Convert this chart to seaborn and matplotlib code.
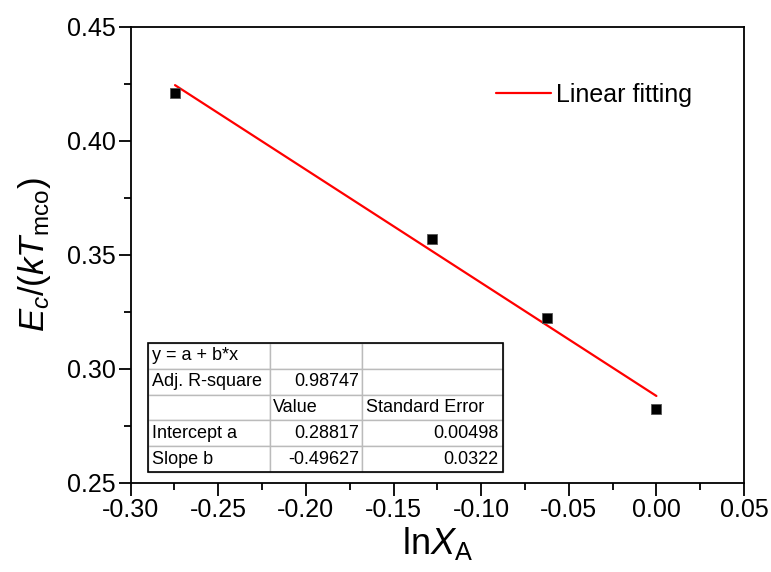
import numpy as np
import pandas as pd
import matplotlib
matplotlib.use("Agg")
import matplotlib.pyplot as plt
import seaborn as sns
from matplotlib.patches import Rectangle

# ---- data ----
ln_xa = [-0.2747, -0.128, -0.0624, 0.0]
ec_ktmco = [0.4209, 0.357, 0.3224, 0.2825]
fit_a = 0.28817
fit_b = -0.49627
fit_a_err = 0.00498
fit_b_err = 0.0322
adj_r2 = 0.98747
x_ticks = [-0.30, -0.25, -0.20, -0.15, -0.10, -0.05, 0.00, 0.05]
y_ticks = [0.25, 0.30, 0.35, 0.40, 0.45]

sns.set_style("ticks")
plt.rcParams['font.family'] = ['Liberation Sans', 'DejaVu Sans']
plt.rcParams['mathtext.fontset'] = 'custom'
plt.rcParams['mathtext.rm'] = 'Liberation Sans'
plt.rcParams['mathtext.it'] = 'Liberation Sans:italic'
plt.rcParams['mathtext.bf'] = 'Liberation Sans:bold'
plt.rcParams['text.color'] = 'black'
plt.rcParams['axes.labelcolor'] = 'black'
plt.rcParams['xtick.color'] = 'black'
plt.rcParams['ytick.color'] = 'black'

fig = plt.figure(figsize=(7.71, 5.72), dpi=100)
ax = fig.add_axes([0.1695, 0.1556, 0.7955, 0.7972])

pts = pd.DataFrame({"x": ln_xa, "y": ec_ktmco})
fit_x = np.array([min(ln_xa), max(ln_xa)])
fit = pd.DataFrame({"x": fit_x, "y": fit_a + fit_b * fit_x})

sns.lineplot(data=fit, x="x", y="y", ax=ax, color="#ff0000", linewidth=1.6,
             label="Linear fitting", zorder=2)
ax.plot(pts["x"], pts["y"], linestyle="none", marker="s", markersize=7.5,
        markerfacecolor="black", markeredgecolor="#555555", markeredgewidth=0.6, zorder=3)

ax.set_xlim(-0.30, 0.05)
ax.set_ylim(0.25, 0.45)
ax.set_xticks(x_ticks)
ax.set_yticks(y_ticks)
ax.set_xticklabels([f"{t:.2f}" for t in x_ticks])
ax.set_yticklabels([f"{t:.2f}" for t in y_ticks])
ax.set_xticks(np.arange(-0.275, 0.05, 0.05), minor=True)
ax.set_yticks(np.arange(0.275, 0.45, 0.05), minor=True)
ax.tick_params(which="major", direction="out", length=9, width=1.3, labelsize=18, pad=2,
               colors="black", labelcolor="black")
ax.tick_params(which="minor", direction="out", length=5, width=1.3)
for s in ax.spines.values():
    s.set_linewidth(1.3)
    s.set_color("black")

ax.set_xlabel(r"ln$X_\mathrm{A}$", fontsize=26, labelpad=2, color="black")
ax.set_ylabel(r"$E_c/(kT_\mathrm{mco})$", fontsize=25, labelpad=10, color="black")

leg = ax.legend(loc="upper left", bbox_to_anchor=(0.58, 0.9), frameon=False,
                fontsize=18, handlelength=2.2, handletextpad=0.2, borderaxespad=0)
for t in leg.get_texts():
    t.set_color("black")

cells = [["y = a + b*x", "", ""],
         ["Adj. R-square", f"{adj_r2:.5f}", ""],
         ["", "Value", "Standard Error"],
         ["Intercept a", f"{fit_a:.5f}", f"{fit_a_err:.5f}"],
         ["Slope b", f"{fit_b:.5f}", f"{fit_b_err:.4f}"]]
tbl = ax.table(cellText=cells, colWidths=[0.344, 0.259, 0.397],
               bbox=[0.028, 0.024, 0.579, 0.283], cellLoc="left", zorder=5)
tbl.auto_set_font_size(False)
for (r, c), cell in tbl.get_celld().items():
    cell.set_fontsize(13)
    cell.set_edgecolor("#bbbbbb")
    cell.set_linewidth(1.0)
    cell.set_facecolor("white")
    cell.PAD = 0.03
    txt = cell.get_text()
    txt.set_color("black")
    if c > 0 and r in (1, 3, 4):
        txt.set_ha("right")
        cell._loc = "right"
# outer border
ax.add_patch(Rectangle((0.028, 0.024), 0.579, 0.283, transform=ax.transAxes,
                       fill=False, edgecolor="black", linewidth=1.2, zorder=6))

fig.savefig("out.png", dpi=100)
